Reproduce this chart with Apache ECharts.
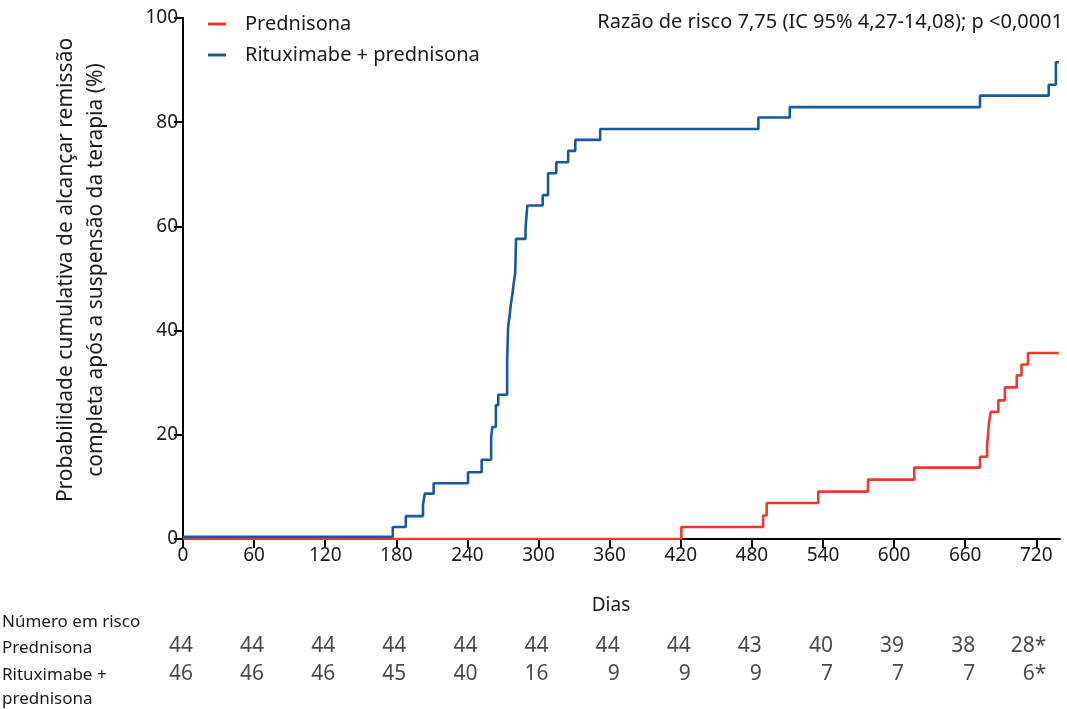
<!DOCTYPE html>
<html>
<head>
<meta charset="utf-8">
<script src="https://cdn.jsdelivr.net/npm/echarts@6/dist/echarts.min.js"></script>
<style>
html,body{margin:0;padding:0;background:#fff;}
#chart{width:1067px;height:709px;}
</style>
</head>
<body>
<div id="chart"></div>
<script>
// ---- data ----
const seriesNames = ['Prednisona', 'Rituximabe + prednisona'];
// [day, cumulative %] — step curves
const prednisona = [
  [0,0],[420.5,2.3],[489.5,4.5],[492.5,6.9],[536,9.1],[578,11.4],[617,13.7],
  [672.5,15.8],[678.5,18.0],[680,22.2],[681.5,24.4],[688,26.6],[693.5,29.1],
  [703.5,31.4],[707.5,33.5],[713,35.7],[739,35.7]
];
const rituximabe = [
  [0,0.4],[177,2.3],[188,4.4],[202.5,6.5],[204,8.7],[211.5,10.7],[240.5,12.8],
  [252,15.2],[260,19.5],[261,21.5],[264,25.7],[266,27.7],[273.5,34.2],[274.3,40.6],
  [275.5,42.7],[276.5,44.8],[278,47.1],[279,49.0],[280.3,51.0],[281,57.6],
  [289,59.6],[290.5,64.0],[303.5,66.0],[308,70.2],[315,72.3],[325,74.5],
  [331,76.6],[352,78.7],[485.5,80.9],[512,82.9],[672.5,85.1],[730.5,87.2],
  [736.5,91.5],[739,91.5]
];
const atRiskDays = [0,60,120,180,240,300,360,420,480,540,600,660,720];
const atRiskPred = ['44','44','44','44','44','44','44','44','43','40','39','38','28*'];
const atRiskRitux = ['46','46','46','45','40','16','9','9','9','7','7','7','6*'];
const atRiskRowLabels = ['Número em risco','Prednisona','Rituximabe +','prednisona'];
const yAxisTitle = ['Probabilidade cumulativa de alcançar remissão','completa após a suspensão da terapia (%)'];
const xAxisTitle = 'Dias';
const annotation = 'Razão de risco 7,75 (IC 95% 4,27-14,08); p <0,0001';

// ---- chart ----
const RED = '#ee3a2e', BLUE = '#17599f', INK = '#1a1a1a';
const FONT = 'Noto Sans';
const chart = echarts.init(document.getElementById('chart'), null, {renderer:'canvas'});

function riskSeries(rowVal, labels, name) {
  return {
    type: 'scatter', name: name, xAxisIndex: 1, yAxisIndex: 1,
    symbolSize: 0, silent: true,
    data: atRiskDays.map(d => [d, rowVal]),
    label: {
      show: true, position: 'inside', align: 'right', verticalAlign: 'middle',
      offset: [10, 0], color: INK, fontFamily: FONT, fontSize: 21,
      formatter: p => labels[p.dataIndex]
    }
  };
}

chart.setOption({
  animation: false,
  backgroundColor: '#fff',
  textStyle: {fontFamily: FONT},
  grid: [
    {left: 183, right: 7, top: 18, bottom: 170, containLabel: false},
    {left: 183, right: 7, top: 646, height: 28, containLabel: false}
  ],
  legend: {
    orient: 'vertical', left: 203, top: 8, itemWidth: 18, itemHeight: 3,
    itemGap: 9, icon: 'rect',
    data: seriesNames,
    textStyle: {fontFamily: FONT, fontSize: 20, color: INK, padding: [0,0,0,14], lineHeight: 22}
  },
  xAxis: [
    {
      type: 'value', min: 0, max: 740, interval: 60,
      axisLine: {show: true, lineStyle: {color: '#000', width: 2}},
      axisTick: {show: true, length: 9, lineStyle: {color: '#000', width: 2}},
      axisLabel: {color: INK, fontFamily: FONT, fontSize: 19, margin: 7, showMaxLabel: false},
      splitLine: {show: false}
    },
    {type: 'value', gridIndex: 1, min: 0, max: 740, show: false}
  ],
  yAxis: [
    {
      type: 'value', min: 0, max: 100, interval: 20,
      axisLine: {show: true, lineStyle: {color: '#000', width: 2}},
      axisTick: {show: true, length: 9, lineStyle: {color: '#000', width: 2}},
      axisLabel: {color: INK, fontFamily: FONT, fontSize: 19, margin: 5},
      splitLine: {show: false}
    },
    {type: 'value', gridIndex: 1, min: 0, max: 1, show: false}
  ],
  series: [
    {
      name: seriesNames[0], type: 'line', step: 'end', data: prednisona,
      showSymbol: false, symbol: 'none', z: 3,
      itemStyle: {color: RED}, lineStyle: {color: RED, width: 2.6}
    },
    {
      name: seriesNames[1], type: 'line', step: 'end', data: rituximabe,
      showSymbol: false, symbol: 'none', z: 4,
      itemStyle: {color: BLUE}, lineStyle: {color: BLUE, width: 2.6}
    },
    riskSeries(1, atRiskPred, 'riskPred'),
    riskSeries(0, atRiskRitux, 'riskRitux')
  ],
  graphic: [
    {type: 'text', x: 81, y: 270, rotation: Math.PI/2,
     style: {text: yAxisTitle.join('\n'), fill: INK, font: '21px "Noto Sans"',
             textAlign: 'center', textVerticalAlign: 'middle', lineHeight: 30}},
    {type: 'text', x: 1063, y: 22,
     style: {text: annotation, fill: INK, font: '20px "Noto Sans"',
             textAlign: 'right', textVerticalAlign: 'middle'}},
    {type: 'text', x: 611, y: 606,
     style: {text: xAxisTitle, fill: INK, font: '19px "Noto Sans"',
             textAlign: 'center', textVerticalAlign: 'middle'}},
    {type: 'text', x: 2, y: 622,
     style: {text: atRiskRowLabels[0], fill: INK, font: '17px "Noto Sans"', textVerticalAlign: 'middle'}},
    {type: 'text', x: 2, y: 648,
     style: {text: atRiskRowLabels[1], fill: INK, font: '17px "Noto Sans"', textVerticalAlign: 'middle'}},
    {type: 'text', x: 2, y: 675,
     style: {text: atRiskRowLabels[2], fill: INK, font: '17px "Noto Sans"', textVerticalAlign: 'middle'}},
    {type: 'text', x: 2, y: 699,
     style: {text: atRiskRowLabels[3], fill: INK, font: '17px "Noto Sans"', textVerticalAlign: 'middle'}}
  ]
});
</script>
</body>
</html>
